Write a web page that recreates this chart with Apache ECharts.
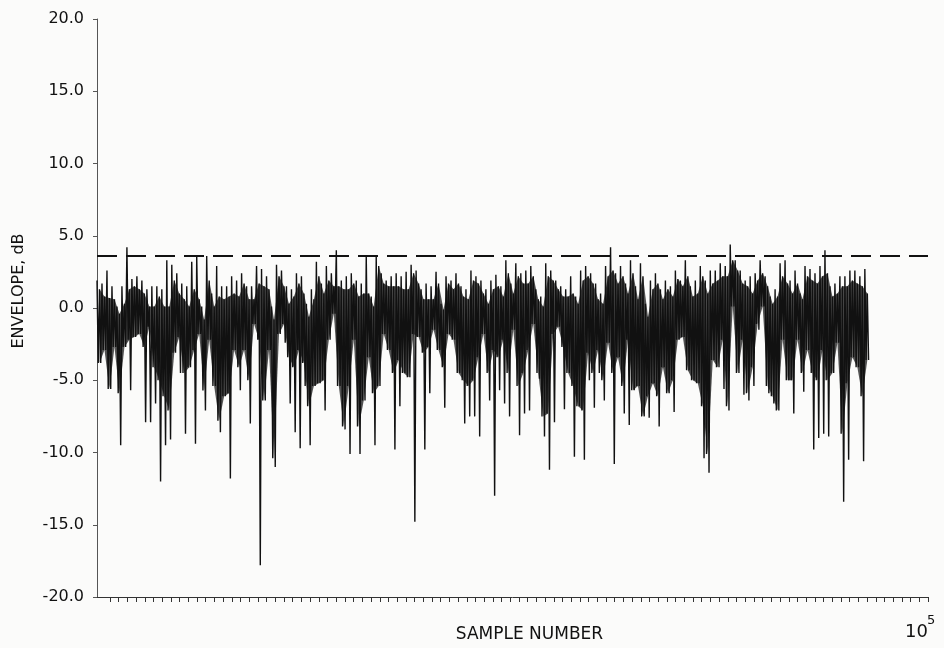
<!DOCTYPE html>
<html>
<head>
<meta charset="utf-8">
<script src="https://cdn.jsdelivr.net/npm/echarts@6.0.0/dist/echarts.min.js"></script>
<style>
  html, body { margin: 0; padding: 0; background: #fbfbfa; }
  #chart { width: 944px; height: 648px; }
</style>
</head>
<body>
<div id="chart"></div>
<script>
// samples per bin, one bin is about 5 px of the plot
var binSamples = 600;
var xMax = 100000;
var threshold = 3.6;
var yTicks = [-20, -15, -10, -5, 0, 5, 10, 15, 20];
var sampleTickCount = 94;

// highest excursion inside each bin (dB)
var peak = [
    1.9, 1.7, 2.6, 1.5, 0.1, 1.5, 4.2, 2.0, 2.2, 1.9,
    1.3, 1.5, 1.5, 1.3, 3.3, 3.0, 2.4, 1.7, 1.5, 3.2,
    3.6, 0.1, 3.6, 1.0, 2.9, 1.5, 1.5, 2.2, 1.9, 2.4,
    1.5, 1.5,
    2.9, 2.7, 2.2, 0.1, 3.0, 2.6, 1.5, 1.3, 2.4, 2.2,
    0.3, 1.3, 3.2, 1.7, 2.9, 2.4, 4.0, 1.9, 2.2, 2.4,
    1.9, 1.7, 3.6, 0.8, 3.6, 2.4, 1.9, 2.2, 2.4, 2.2,
    2.5, 3.0, 2.6, 1.3, 1.7, 1.5, 2.5, 0.3, 2.2, 1.9,
    2.4, 1.5, 1.3, 2.6, 2.2, 1.9, 1.3, 1.9, 2.3, 1.5,
    3.3, 1.7, 3.1, 2.4, 2.6, 2.9, 1.3, 0.8, 3.1, 2.6,
    1.9, 1.5,
    1.3, 2.2, 0.8, 2.6, 2.9, 2.4, 1.7, 1.0, 2.9, 4.2,
    2.4, 2.9, 1.7, 3.3, 1.5, 3.1, 0.3, 1.9, 2.4, 1.3,
    1.9, 1.5, 2.6, 1.9, 3.3, 1.5, 1.9, 2.9, 1.9, 2.6,
    2.6, 3.1, 2.9, 4.4, 3.3, 2.6, 1.9, 2.2, 2.4, 3.3,
    2.2, 0.8, 1.3, 3.1, 3.3, 1.9, 2.6, 1.0, 2.9, 2.7,
    2.4, 2.9, 4.0, 1.5, 1.7, 2.2, 2.2, 2.6, 2.6, 2.2,
    2.7
];

// top edge of the dense black part
var upper = [
    1.3, 0.8, 0.7, 0.6, -0.4, 0.3, 1.3, 1.5, 1.3, 1.0,
    0.1, 0.1, 0.8, 0.1, 0.1, 1.9, 1.0, 0.6, 0.1, 1.3,
    0.6, -0.8, 1.9, 0.1, 0.8, 0.6, 0.8, 1.0, 0.8, 1.7,
    0.6, 0.6,
    1.7, 1.5, 1.3, -0.8, 2.2, 1.5, 0.3, 0.8, 1.7, 1.0,
    -0.6, 0.6, 2.2, 1.0, 1.9, 1.5, 1.5, 1.3, 1.3, 1.7,
    0.8, 1.0, 1.0, 0.1, 2.9, 1.7, 1.5, 1.5, 1.5, 1.3,
    1.3, 2.4, 1.7, 0.6, 0.6, 0.6, 1.7, -0.1, 1.7, 1.3,
    1.7, 0.8, 0.6, 1.9, 1.7, 1.0, 0.3, 1.3, 1.5, 0.8,
    2.4, 1.0, 2.2, 1.7, 1.7, 2.2, 0.6, 0.1, 2.2, 1.9,
    1.3, 0.8,
    0.8, 1.0, 0.3, 1.9, 2.2, 1.7, 0.6, 0.3, 2.2, 2.6,
    1.7, 2.2, 1.0, 2.4, 0.6, 2.2, -0.6, 1.3, 1.7, 0.6,
    1.3, 0.8, 2.0, 1.5, 2.2, 0.8, 1.0, 2.2, 1.0, 1.7,
    1.9, 2.2, 2.2, 3.3, 2.6, 1.7, 1.5, 1.0, 1.9, 2.4,
    1.5, 0.3, 0.8, 2.2, 1.7, 1.0, 1.7, 0.6, 2.2, 1.9,
    1.7, 2.2, 2.4, 0.8, 1.0, 1.5, 1.5, 1.9, 1.7, 1.5,
    1.0
];

// bottom edge of the dense black part
var lower = [
    -3.8, -2.9, -5.6, -2.7, -5.9, -2.7, -2.2, -2.0, -1.8, -2.7,
    -1.3, -4.1, -5.0, -6.1, -7.1, -3.1, -2.0, -4.5, -4.1, -2.9,
    -1.8, -5.7, -2.2, -5.4, -7.8, -6.1, -5.9, -2.9, -4.1, -2.9,
    -5.0, -1.1,
    -2.2, -6.4, -2.9, -10.4, -1.8, -1.1, -3.4, -4.1, -2.9, -3.8,
    -6.8, -5.4, -5.2, -5.0, -2.2, -0.4, -5.4, -8.2, -5.4, -2.2,
    -8.2, -6.4, -3.4, -5.9, -5.4, -1.8, -2.9, -4.5, -3.6, -4.5,
    -4.8, -1.8, -2.0, -3.1, -2.7, -1.5, -2.9, -4.1, -1.8, -2.2,
    -4.5, -5.0, -5.4, -5.0, -3.4, -1.8, -4.5, -2.9, -3.4, -2.2,
    -4.5, -1.5, -5.4, -4.5, -2.9, -1.1, -4.5, -7.5, -7.3, -1.8,
    -1.3, -2.7,
    -4.5, -5.4, -6.8, -7.1, -3.1, -4.5, -2.9, -5.0, -2.4, -4.5,
    -3.4, -5.4, -2.2, -5.7, -5.4, -7.5, -6.1, -5.2, -6.1, -4.1,
    -5.9, -5.0, -2.2, -2.0, -4.3, -5.0, -5.2, -6.8, -10.1, -3.6,
    -4.1, -2.2, -6.8, 0.1, -4.5, -2.2, -5.9, -4.1, -1.1, 0.1,
    -5.4, -6.1, -7.1, -2.2, -5.0, -5.0, -2.2, -4.5, -2.9, -4.5,
    -5.0, -2.9, -5.0, -4.5, -2.4, -8.7, -5.2, -3.4, -4.1, -6.1,
    -3.6
];

// thin downward spikes: [bin, dB]
var spikes = [
    [4, -9.5], [6, -5.7], [9, -7.9], [10, -7.9], [11, -6.6], [12, -12.0], [13, -9.5],
    [14, -9.1], [16, -4.5], [17, -8.7], [19, -9.4], [21, -7.1], [24, -8.6], [26, -11.8],
    [28, -5.7], [30, -8.0],
    [32, -17.8], [35, -11.0], [37, -2.4], [38, -6.6], [39, -8.6], [40, -9.7], [41, -5.4],
    [42, -9.5], [45, -7.1], [49, -8.4], [50, -10.1], [52, -10.1], [55, -9.5], [59, -9.8],
    [60, -6.8],
    [63, -14.8], [65, -9.8], [66, -5.9], [69, -6.9], [73, -8.0], [74, -7.5], [75, -7.5],
    [76, -8.9], [78, -6.4], [79, -13.0], [80, -5.7], [81, -6.6], [82, -7.5], [84, -8.8],
    [85, -7.3], [86, -7.1], [88, -4.9], [89, -8.9], [90, -11.2], [91, -7.9], [93, -7.0],
    [95, -10.3], [97, -10.5], [98, -5.0], [99, -6.9], [100, -4.5], [101, -6.4], [103, -10.8],
    [105, -7.3], [106, -8.1], [110, -7.6], [112, -8.2], [115, -7.2], [121, -10.4], [122, -11.4],
    [125, -5.6], [126, -7.1], [129, -6.0], [130, -6.4], [131, -5.4], [132, -1.5], [134, -5.9],
    [135, -6.6], [139, -7.3], [141, -5.8], [143, -9.8], [144, -9.0], [145, -8.7], [146, -8.9],
    [149, -13.4], [150, -10.5], [153, -10.6]
];

var ink = '#111';
var font = 'DejaVu Sans';

// build the trace: each bin is drawn peak -> lower -> upper -> lowest
var spikeAt = {};
spikes.forEach(function (s) { spikeAt[s[0]] = s[1]; });
var trace = [];
var mass = [];
for (var i = 0; i < peak.length; i++) {
    var x0 = i * binSamples;
    var lowest = spikeAt[i] !== undefined ? spikeAt[i] : lower[i];
    trace.push([x0, peak[i]]);
    trace.push([x0 + binSamples / 4, lower[i]]);
    trace.push([x0 + binSamples / 2, upper[i]]);
    trace.push([x0 + binSamples * 3 / 4, lowest]);
    mass.push([x0 + binSamples / 2, upper[i], lower[i]]);
}

// dense part: quad between this bin and the next one
function renderMass(params, api) {
    var k = params.dataIndex;
    if (k >= mass.length - 1) return;
    var a = mass[k], b = mass[k + 1];
    var pts = [
        api.coord([a[0], a[1]]),
        api.coord([b[0], b[1]]),
        api.coord([b[0], b[2]]),
        api.coord([a[0], a[2]])
    ];
    return {
        type: 'polygon',
        shape: { points: pts },
        style: { fill: ink, opacity: 0.72 }
    };
}

var chart = echarts.init(document.getElementById('chart'));
chart.setOption({
    backgroundColor: '#fbfbfa',
    animation: false,
    grid: [
        { left: 97, right: 16, top: 19, bottom: 51 },
        // tick row of the sample axis
        { left: 110, right: 16, top: 19, bottom: 51 }
    ],
    xAxis: [
        {
            type: 'value',
            gridIndex: 0,
            min: 0,
            max: xMax,
            name: 'SAMPLE NUMBER',
            nameLocation: 'middle',
            nameGap: 29,
            nameTextStyle: { fontFamily: font, fontSize: 17, color: ink, padding: [0, 0, 0, 34] },
            axisLine: { onZero: false, lineStyle: { color: '#333', width: 1 } },
            axisTick: { show: false },
            axisLabel: { show: false },
            splitLine: { show: false }
        },
        {
            type: 'value',
            gridIndex: 1,
            min: 0,
            max: sampleTickCount,
            interval: 1,
            axisLine: { show: false, onZero: false },
            axisTick: { show: true, length: 5, lineStyle: { color: '#333', width: 1 } },
            axisLabel: { show: false },
            splitLine: { show: false }
        }
    ],
    yAxis: [
        {
            type: 'value',
            gridIndex: 0,
            min: yTicks[0],
            max: yTicks[yTicks.length - 1],
            interval: 5,
            name: 'ENVELOPE, dB',
            nameLocation: 'middle',
            nameGap: 70,
            nameTextStyle: { fontFamily: font, fontSize: 16, color: ink, padding: [0, 0, 0, 34] },
            axisLine: { show: true, onZero: false, lineStyle: { color: '#555', width: 1 } },
            axisTick: { show: true, length: 4, lineStyle: { color: '#555' } },
            axisLabel: {
                margin: 13,
                fontFamily: font,
                fontSize: 16,
                color: ink,
                formatter: function (v) { return v.toFixed(1); }
            },
            splitLine: { show: false }
        },
        {
            type: 'value',
            gridIndex: 1,
            min: -20,
            max: 20,
            show: false
        }
    ],
    series: [
        {
            type: 'custom',
            data: mass,
            renderItem: renderMass,
            silent: true,
            z: 1
        },
        {
            type: 'line',
            data: trace,
            showSymbol: false,
            symbol: 'none',
            lineStyle: { color: ink, width: 1.4 },
            z: 2,
            markLine: {
                silent: true,
                symbol: 'none',
                label: { show: false },
                lineStyle: { color: ink, width: 2, type: [20, 9] },
                data: [{ yAxis: threshold }]
            }
        }
    ],
    graphic: [
        {
            type: 'text',
            left: 905,
            top: 623,
            style: { text: '10', fontFamily: font, fontSize: 18, fill: ink }
        },
        {
            type: 'text',
            left: 927,
            top: 614,
            style: { text: '5', fontFamily: font, fontSize: 13, fill: ink }
        }
    ]
});
</script>
</body>
</html>
